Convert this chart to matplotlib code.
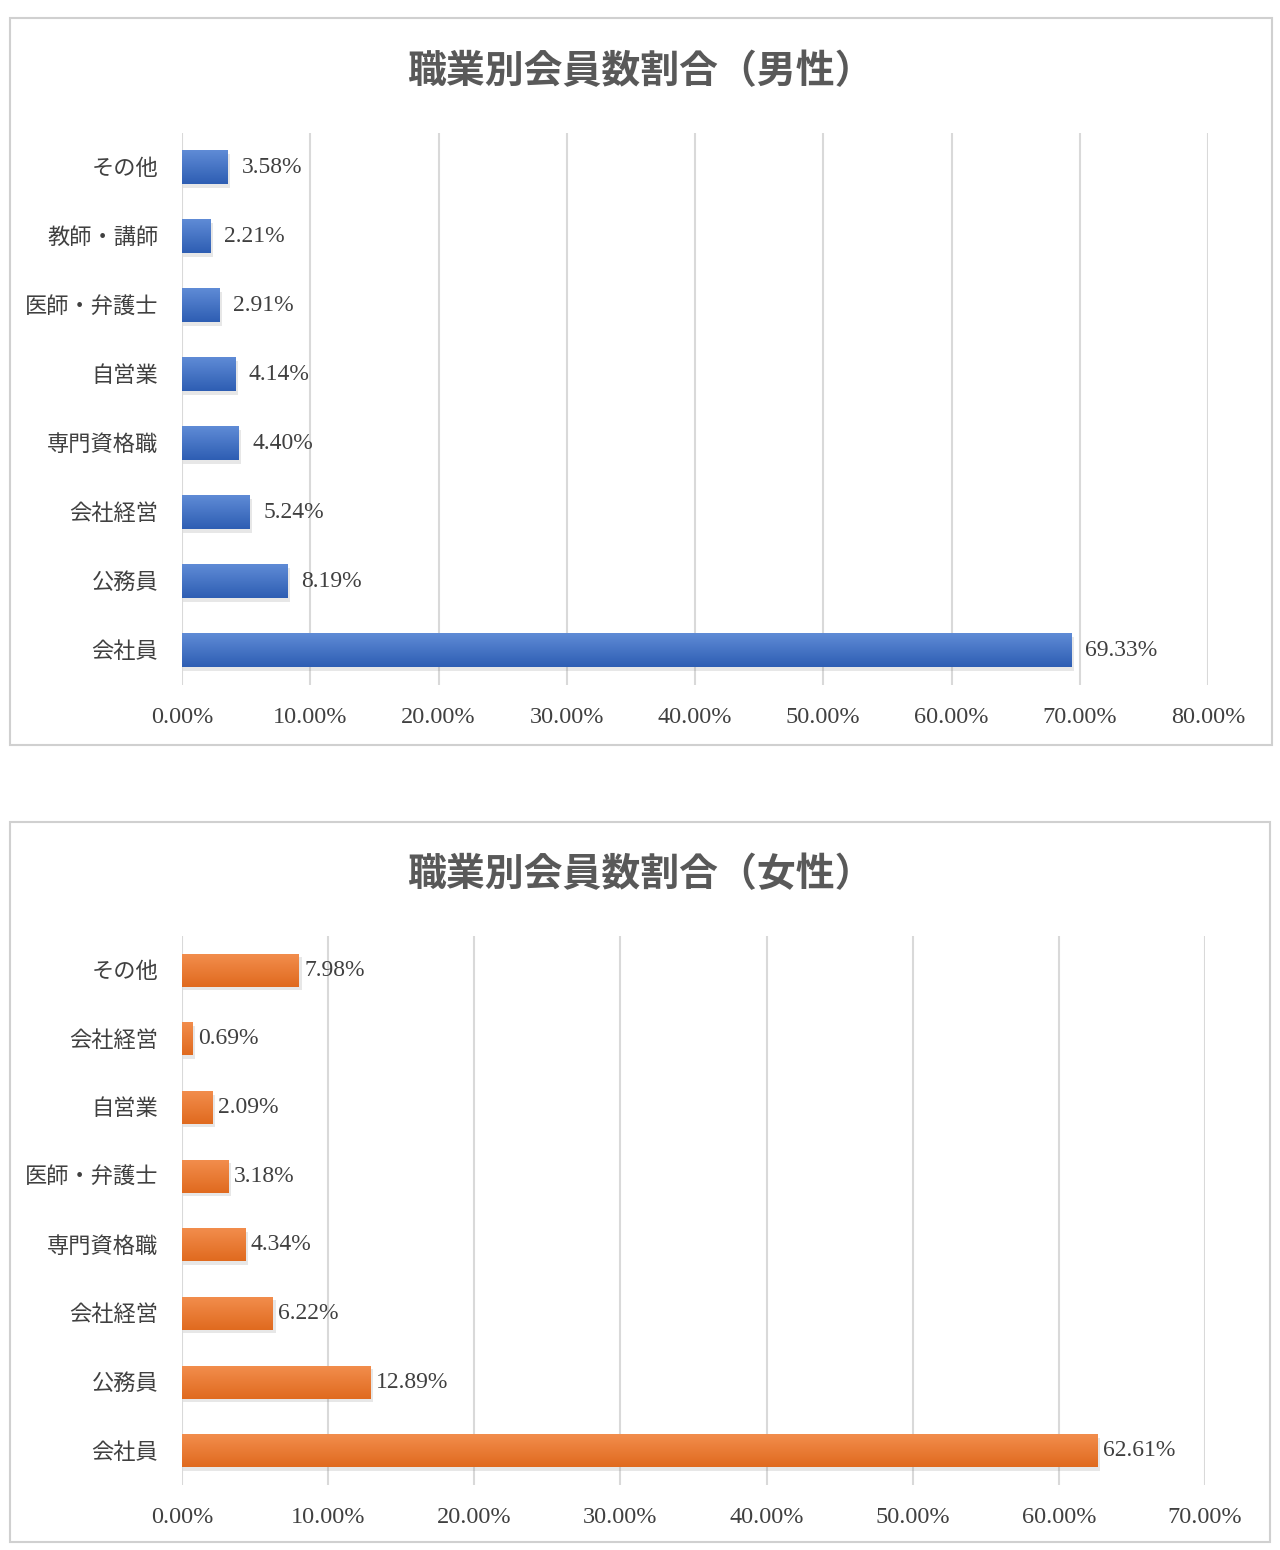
import numpy as np
import matplotlib.pyplot as plt
from matplotlib.patches import Rectangle
from matplotlib.colors import LinearSegmentedColormap

plt.rcParams['font.family'] = ['Liberation Serif', 'Noto Sans CJK JP']

# data (top to bottom as drawn)
male_jobs = ['その他', '教師・講師', '医師・弁護士', '自営業', '専門資格職', '会社経営', '公務員', '会社員']
male_pct = [3.58, 2.21, 2.91, 4.14, 4.40, 5.24, 8.19, 69.33]
female_jobs = ['その他', '会社経営', '自営業', '医師・弁護士', '専門資格職', '会社経営', '公務員', '会社員']
female_pct = [7.98, 0.69, 2.09, 3.18, 4.34, 6.22, 12.89, 62.61]
male_ticks = [0, 10, 20, 30, 40, 50, 60, 70, 80]
female_ticks = [0, 10, 20, 30, 40, 50, 60, 70]

TXT = '#404040'
GRID = '#d9d9d9'

fig = plt.figure(figsize=(12.8, 15.5), dpi=100)

# chart boxes
for (x0, y0, x1, y1) in [(10, 18, 1272, 745), (10, 822, 1270, 1542)]:
    fig.patches.append(Rectangle((x0 / 1280, 1 - y1 / 1550), (x1 - x0) / 1280, (y1 - y0) / 1550,
                                 transform=fig.transFigure, fill=False,
                                 edgecolor='#d0d0d0', linewidth=1.5))


def draw(ax, jobs, pct, ticks, top_col, bot_col, title, title_y, lab_off):
    n = len(jobs)
    ys = np.arange(n)[::-1]
    h = 0.48
    cmap = LinearSegmentedColormap.from_list('g', [bot_col, top_col])
    grad = np.linspace(0, 1, 50).reshape(-1, 1)
    for y, v in zip(ys, pct):
        # soft shadow
        ax.barh(y - 0.05, v + 0.15, height=h, left=0.05, color='#7f7f7f', alpha=0.18, zorder=2)
        ax.imshow(grad, cmap=cmap, origin='lower', aspect='auto',
                  extent=[0, v, y - h / 2, y + h / 2], zorder=3)
        ax.annotate(f'{v:.2f}%', (v, y), xytext=(lab_off, 0), textcoords='offset points',
                    va='center', ha='left', fontsize=17, color=TXT, zorder=4)
    ax.set_xlim(0, ticks[-1])
    ax.set_ylim(-0.5, n - 0.5)
    ax.set_xticks(ticks)
    ax.set_xticklabels([f'{t:.2f}%' for t in ticks])
    ax.set_yticks(ys)
    ax.set_yticklabels(jobs)
    ax.tick_params(length=0, colors=TXT)
    ax.tick_params(axis='x', pad=16, labelsize=17.5)
    ax.tick_params(axis='y', pad=17, labelsize=16)
    ax.grid(axis='x', color=GRID, linewidth=1.5, zorder=0)
    ax.set_axisbelow(True)
    for s in ax.spines.values():
        s.set_visible(False)
    fig.text(0.5, title_y, title, ha='center', va='center', fontsize=28,
             fontweight='bold', color='#595959')


ax1 = fig.add_axes([182 / 1280, 1 - 685 / 1550, (1208 - 182) / 1280, (685 - 133) / 1550])
draw(ax1, male_jobs, male_pct, male_ticks, '#5f8bd6', '#2e5eb3',
     '職業別会員数割合（男性）', 1 - 73 / 1550, 10)

ax2 = fig.add_axes([182 / 1280, 1 - 1485 / 1550, (1205 - 182) / 1280, (1485 - 936) / 1550])
draw(ax2, female_jobs, female_pct, female_ticks, '#f28d4c', '#e06a1f',
     '職業別会員数割合（女性）', 1 - 876 / 1550, 4)

fig.savefig('out.png', dpi=100, facecolor='white')
